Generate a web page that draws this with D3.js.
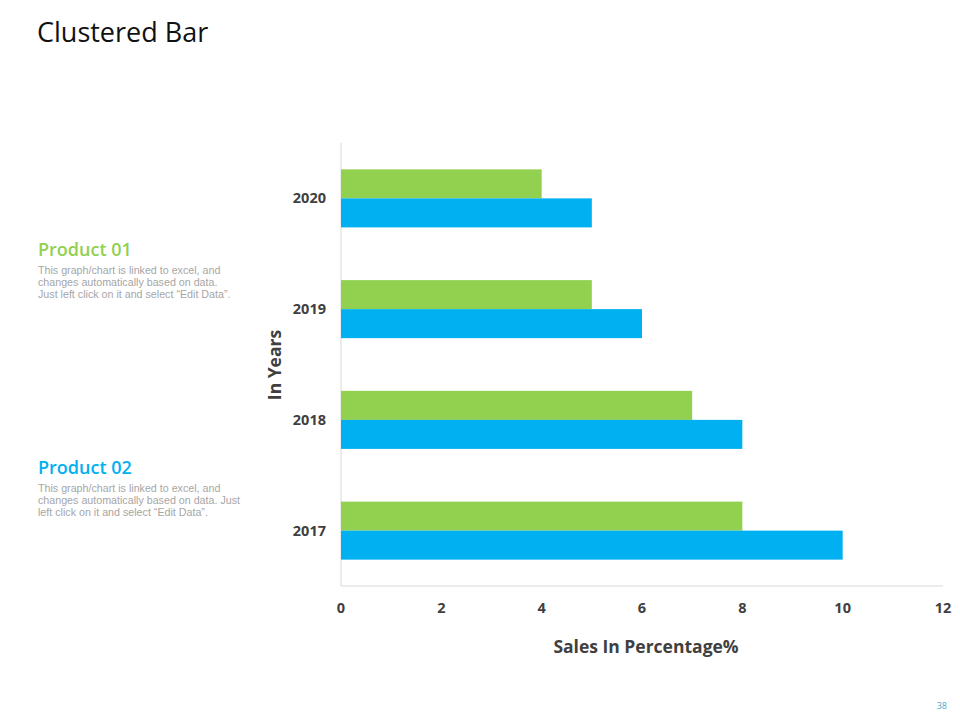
<!DOCTYPE html>
<html>
<head>
<meta charset="utf-8">
<script src="https://cdn.jsdelivr.net/npm/d3@7"></script>
<style>
  body { margin: 0; background: #fff; }
  svg { display: block; font-family: "Open Sans", "DejaVu Sans", sans-serif; }
  .title { font-size: 27px; fill: #111; }
  .product { font-size: 18px; font-weight: 600; }
  .desc { font-size: 10.7px; fill: #a6a6a6; font-family: "Liberation Sans", Arial, sans-serif; }
  .tick-label { font-size: 14.5px; font-weight: bold; fill: #404040; }
  .axis-title { font-size: 17.5px; font-weight: bold; fill: #404040; }
  .page-num { font-size: 9px; fill: #4aa8d0; }
</style>
</head>
<body>
<div id="chart"></div>
<script>
const years = ['2020', '2019', '2018', '2017'];
const product01 = [4, 5, 7, 8];
const product02 = [5, 6, 8, 10];
const xTicks = [0, 2, 4, 6, 8, 10, 12];
const seriesNames = ['Product 01', 'Product 02'];
const seriesColors = ['#92d050', '#00b0f0'];
const descriptions = [
    ['This graph/chart is linked to excel, and', 'changes automatically based on data.', 'Just left click on it and select \u201cEdit Data\u201d.'],
    ['This graph/chart is linked to excel, and', 'changes automatically based on data. Just', 'left click on it and select \u201cEdit Data\u201d.']
];

const width = 960;
const height = 720;
const margin = {top: 143, right: 17, bottom: 134, left: 341};

const svg = d3.select('#chart')
    .append('svg')
    .attr('width', width)
    .attr('height', height);

svg.append('text')
    .attr('class', 'title')
    .attr('x', 37)
    .attr('y', 42)
    .text('Clustered Bar');

// side notes
const noteY = [256, 474];
seriesNames.forEach((name, i) => {
    svg.append('text')
        .attr('class', 'product')
        .attr('x', 38)
        .attr('y', noteY[i])
        .attr('fill', seriesColors[i])
        .text(name);
    svg.append('text')
        .attr('class', 'desc')
        .attr('x', 38)
        .attr('y', noteY[i] + 18)
        .selectAll('tspan')
        .data(descriptions[i])
        .enter()
        .append('tspan')
        .attr('x', 38)
        .attr('dy', (d, j) => j === 0 ? 0 : 12)
        .text(d => d);
});

const x = d3.scaleLinear()
    .domain([0, 12])
    .range([margin.left, width - margin.right]);

const y = d3.scaleBand()
    .domain(years)
    .range([margin.top, height - margin.bottom])
    .paddingInner(0.476)
    .paddingOuter(0.238);

const ySub = d3.scaleBand()
    .domain([0, 1])
    .range([0, y.bandwidth()]);

const rows = years.map((yr, i) => ({year: yr, values: [product01[i], product02[i]]}));

// axis lines
svg.append('line')
    .attr('x1', x(0)).attr('x2', x(0))
    .attr('y1', margin.top).attr('y2', height - margin.bottom)
    .attr('stroke', '#d9d9d9');
svg.append('line')
    .attr('x1', x(0)).attr('x2', x(12))
    .attr('y1', height - margin.bottom).attr('y2', height - margin.bottom)
    .attr('stroke', '#d9d9d9');

const groups = svg.selectAll('.group')
    .data(rows)
    .enter()
    .append('g')
    .attr('class', 'group')
    .attr('transform', d => `translate(0,${y(d.year)})`);

groups.selectAll('rect')
    .data(d => d.values)
    .enter()
    .append('rect')
    .attr('x', x(0))
    .attr('y', (d, i) => ySub(i))
    .attr('width', d => x(d) - x(0))
    .attr('height', ySub.bandwidth())
    .attr('fill', (d, i) => seriesColors[i]);

// year labels
svg.selectAll('.ylabel')
    .data(years)
    .enter()
    .append('text')
    .attr('class', 'tick-label')
    .attr('text-anchor', 'end')
    .attr('x', x(0) - 15)
    .attr('y', d => y(d) + y.bandwidth() / 2 + 5)
    .text(d => d);

// x tick labels
svg.selectAll('.xlabel')
    .data(xTicks)
    .enter()
    .append('text')
    .attr('class', 'tick-label')
    .attr('text-anchor', 'middle')
    .attr('x', d => x(d))
    .attr('y', height - margin.bottom + 27)
    .text(d => d);

svg.append('text')
    .attr('class', 'axis-title')
    .attr('text-anchor', 'middle')
    .attr('x', 646)
    .attr('y', 653)
    .text('Sales In Percentage%');

svg.append('text')
    .attr('class', 'axis-title')
    .attr('text-anchor', 'middle')
    .attr('transform', 'translate(281,365) rotate(-90)')
    .text('In Years');

svg.append('text')
    .attr('class', 'page-num')
    .attr('text-anchor', 'end')
    .attr('x', 947)
    .attr('y', 709)
    .text('38');
</script>
</body>
</html>
